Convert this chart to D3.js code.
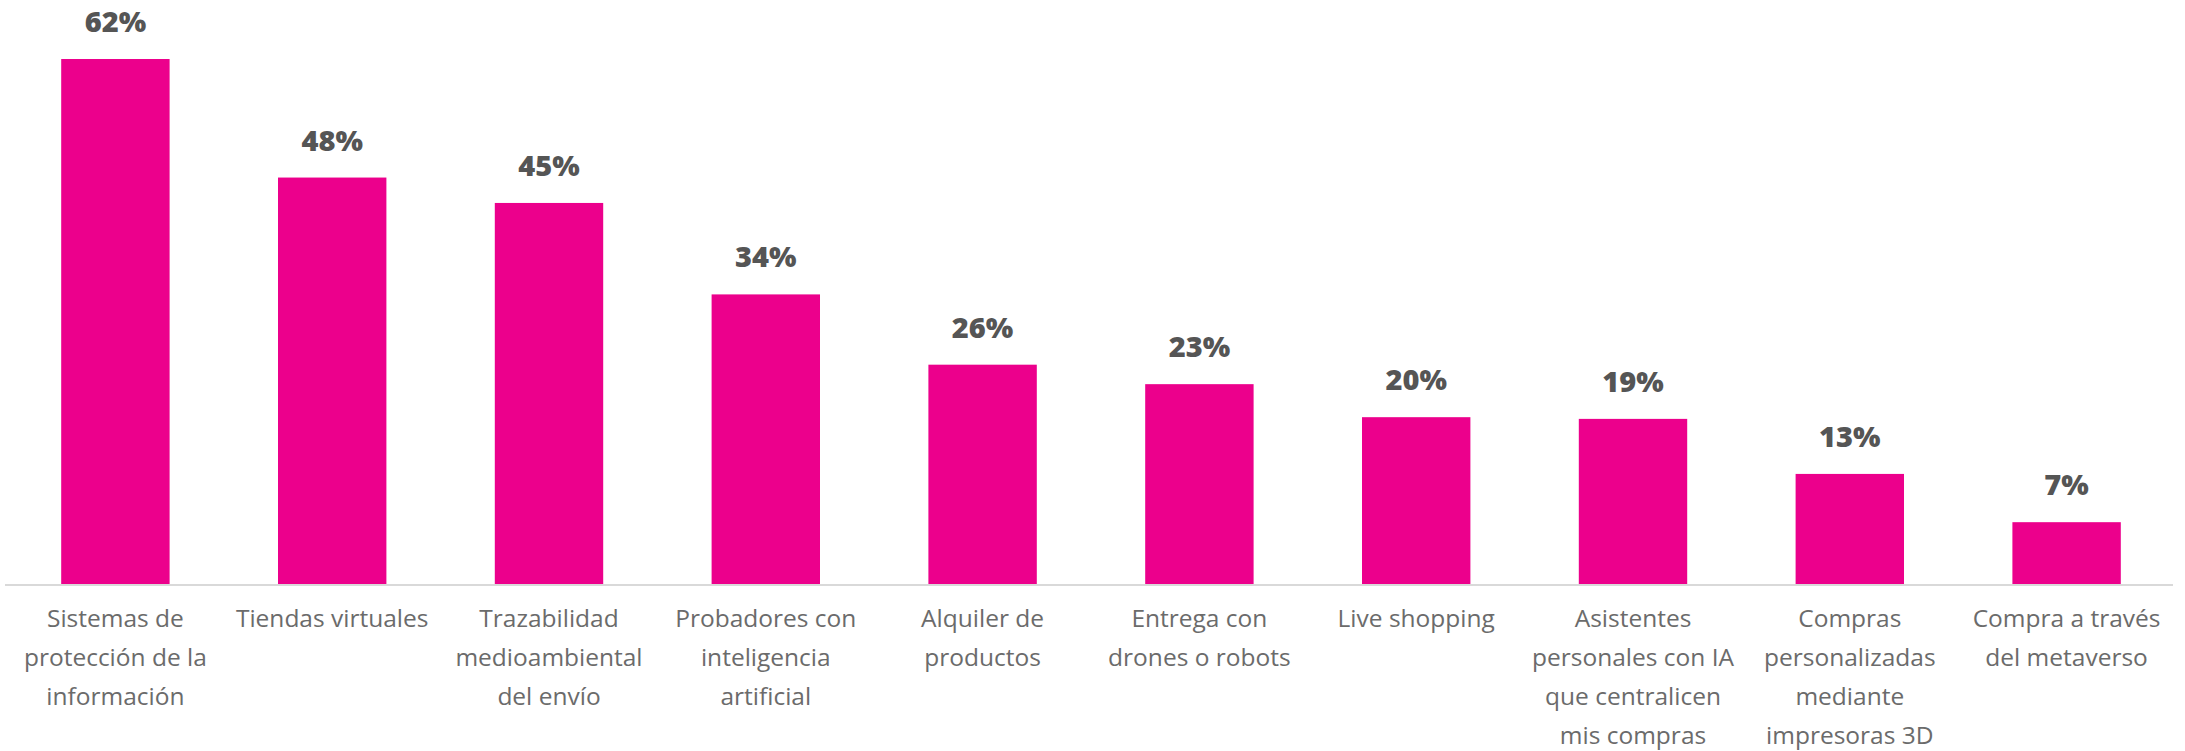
<!DOCTYPE html>
<html>
<head>
<meta charset="utf-8">
<script src="https://cdn.jsdelivr.net/npm/d3@7"></script>
<style>
  body { margin: 0; background: #fff; }
  .bar { fill: #ec008c; }
  .value { font-family: "Open Sans", sans-serif; font-weight: 800; font-size: 29px; fill: #555555; }
  .cat { font-family: "Open Sans", sans-serif; font-weight: 400; font-size: 24.5px; fill: #6b6b6b; }
</style>
</head>
<body>
<div id="main"></div>
<script>
const categories = [
  ["Sistemas de", "protección de la", "información"],
  ["Tiendas virtuales"],
  ["Trazabilidad", "medioambiental", "del envío"],
  ["Probadores con", "inteligencia", "artificial"],
  ["Alquiler de", "productos"],
  ["Entrega con", "drones o robots"],
  ["Live shopping"],
  ["Asistentes", "personales con IA", "que centralicen", "mis compras"],
  ["Compras", "personalizadas", "mediante", "impresoras 3D"],
  ["Compra a través", "del metaverso"]
];
const values = [62, 48, 45, 34.2, 25.9, 23.6, 19.7, 19.5, 13, 7.3];
const valueLabels = ["62%", "48%", "45%", "34%", "26%", "23%", "20%", "19%", "13%", "7%"];

const width = 2185, height = 751;
const margin = { top: 59, left: 7, right: 10, bottom: 167 };

const svg = d3.select("#main").append("svg")
  .attr("width", width)
  .attr("height", height);

const x = d3.scaleBand()
  .domain(d3.range(values.length))
  .range([margin.left, width - margin.right])
  .paddingInner(0.5)
  .paddingOuter(0.25);

const y = d3.scaleLinear()
  .domain([0, 62])
  .range([height - margin.bottom, margin.top]);

svg.selectAll(".bar")
  .data(values)
  .enter().append("rect")
    .attr("class", "bar")
    .attr("x", (d, i) => x(i))
    .attr("width", x.bandwidth())
    .attr("y", d => y(d))
    .attr("height", d => y(0) - y(d));

svg.selectAll(".value")
  .data(values)
  .enter().append("text")
    .attr("class", "value")
    .attr("text-anchor", "middle")
    .attr("x", (d, i) => x(i) + x.bandwidth() / 2)
    .attr("y", d => y(d) - 27)
    .text((d, i) => valueLabels[i]);

// axis line
svg.append("line")
  .attr("x1", margin.left - 2)
  .attr("x2", width - margin.right - 2)
  .attr("y1", y(0) + 1)
  .attr("y2", y(0) + 1)
  .attr("stroke", "#d9d9d9")
  .attr("stroke-width", 2);

const labels = svg.selectAll(".cat")
  .data(categories)
  .enter().append("text")
    .attr("class", "cat")
    .attr("text-anchor", "middle")
    .attr("x", (d, i) => x(i) + x.bandwidth() / 2)
    .attr("y", y(0) + 43);

labels.selectAll("tspan")
  .data(d => d)
  .enter().append("tspan")
    .attr("x", function() { return d3.select(this.parentNode).attr("x"); })
    .attr("dy", (d, i) => i === 0 ? 0 : 39)
    .text(d => d);
</script>
</body>
</html>
